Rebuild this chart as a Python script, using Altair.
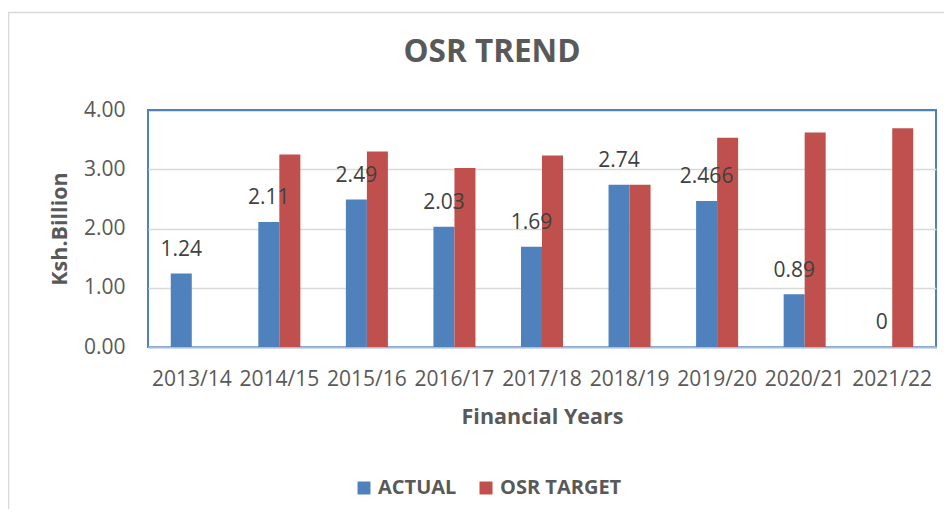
import altair as alt
import pandas as pd

years = ["2013/14", "2014/15", "2015/16", "2016/17", "2017/18",
         "2018/19", "2019/20", "2020/21", "2021/22"]
actual = [1.24, 2.11, 2.49, 2.03, 1.69, 2.74, 2.466, 0.89, 0]
actual_labels = ["1.24", "2.11", "2.49", "2.03", "1.69", "2.74", "2.466", "0.89", "0"]
target = [None, 3.25, 3.30, 3.02, 3.23, 2.74, 3.53, 3.62, 3.69]
series = ["ACTUAL", "OSR TARGET"]
colors = ["#4F81BD", "#C0504D"]
title_text = "OSR TREND"

rows = []
for i, y in enumerate(years):
    rows.append({"year": y, "series": series[0], "value": actual[i], "label": actual_labels[i]})
    rows.append({"year": y, "series": series[1], "value": target[i], "label": ""})
df = pd.DataFrame(rows)

FONT = "Open Sans"
GRAY = "#595959"
BORDER = "#4F81BD"

x_enc = alt.X("year:N", sort=years,
              scale=alt.Scale(paddingInner=0.52, paddingOuter=0.26),
              axis=alt.Axis(title="Financial Years", labelAngle=0, ticks=False,
                            labelFontSize=21, labelColor=GRAY, labelPadding=21,
                            titleFontSize=21.5, titleFontWeight="bold", titleColor=GRAY,
                            titlePadding=17, domainColor="#A7BFDE", domainWidth=2,
                            labelFont=FONT, titleFont=FONT))
xo_enc = alt.XOffset("series:N", scale=alt.Scale(domain=series, paddingInner=0, paddingOuter=0))
y_enc = alt.Y("value:Q", scale=alt.Scale(domain=[0, 4]),
              axis=alt.Axis(title="Ksh.Billion", values=[0, 1, 2, 3, 4], format=".2f",
                            ticks=False, domain=False, labelFontSize=21, labelColor=GRAY,
                            labelPadding=23,
                            gridColor=alt.condition("datum.value == 4", alt.value(BORDER), alt.value("#D9D9D9")),
                            gridWidth=1.5,
                            titleFontSize=21.5, titleFontWeight="bold", titleColor=GRAY,
                            titlePadding=12, labelFont=FONT, titleFont=FONT))

bars = alt.Chart(df).mark_bar().encode(
    x=x_enc,
    xOffset=xo_enc,
    y=y_enc,
    color=alt.Color("series:N", scale=alt.Scale(domain=series, range=colors),
                    legend=alt.Legend(title=None, orient="none", direction="horizontal",
                                      legendX=206, legendY=368, padding=0,
                                      symbolType="square", symbolSize=169,
                                      symbolStrokeWidth=0, labelOffset=4,
                                      columnPadding=19, labelFontSize=20,
                                      labelFontWeight="bold", labelColor=GRAY,
                                      labelFont=FONT)),
)

labels = alt.Chart(df).transform_filter(alt.datum.series == "ACTUAL").mark_text(
    dy=-17.6, baseline="alphabetic", align="center", fontSize=21, color="#404040", font=FONT
).encode(
    x=alt.X("year:N", sort=years),
    xOffset=alt.XOffset("series:N"),
    y=alt.Y("value:Q"),
    text="label:N",
)

single = alt.Data(values=[{"t": title_text}])
frame_left = alt.Chart(single).mark_rule(color="#D9D9D9", strokeWidth=1.5).encode(
    x=alt.value(-139.5), y=alt.value(-97.5), y2=alt.value(430))
frame_top = alt.Chart(single).mark_rule(color="#D9D9D9", strokeWidth=1.5).encode(
    x=alt.value(-140), x2=alt.value(820), y=alt.value(-97.5))
title = alt.Chart(single).mark_text(
    fontSize=31.5, fontWeight="bold", color=GRAY, font=FONT,
    align="center", baseline="alphabetic"
).encode(x=alt.value(344), y=alt.value(-48), text="t:N")

chart = alt.layer(frame_left, frame_top, bars, labels, title).properties(
    width=788, height=237,
    background="white",
    autosize=alt.AutoSizeParams(type="none"),
    padding={"left": 140, "top": 102, "right": 8, "bottom": 162},
).configure_view(stroke=BORDER, strokeWidth=2)

chart.save("out.html", embed_options={"renderer": "svg", "actions": False})
